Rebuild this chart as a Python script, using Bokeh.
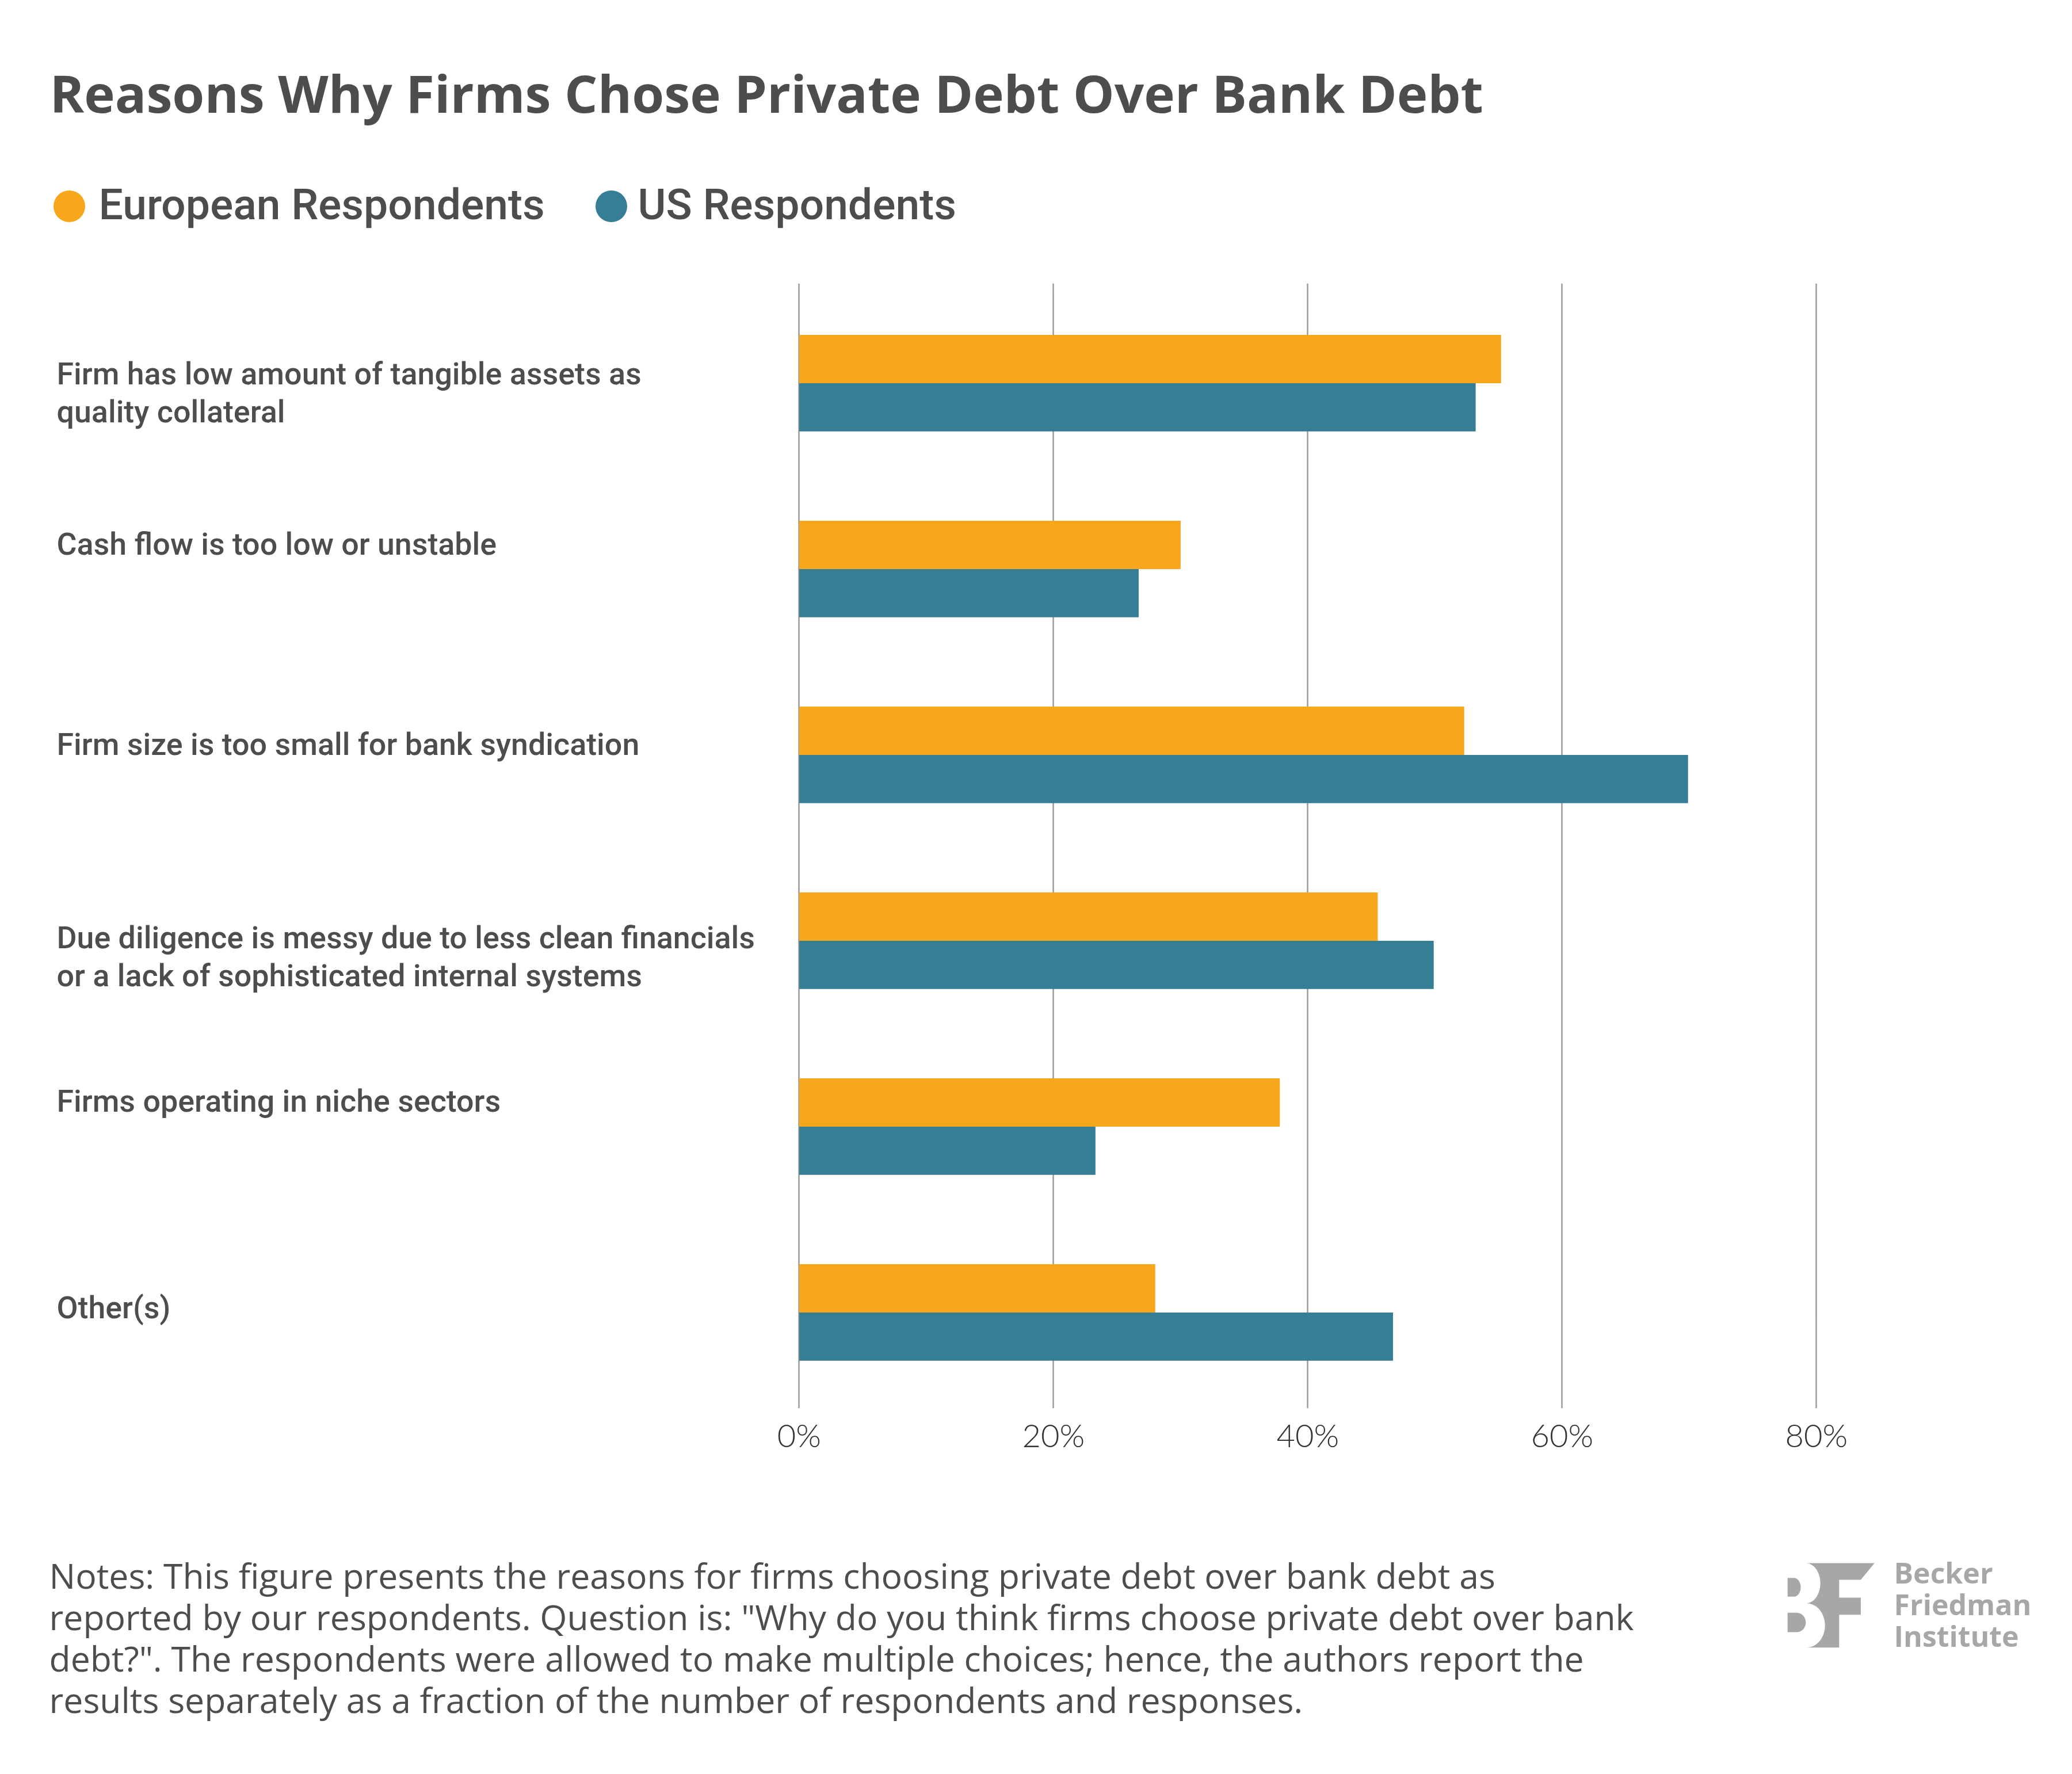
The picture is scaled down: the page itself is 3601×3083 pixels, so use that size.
import numpy as np
from bokeh.plotting import figure
from bokeh.layouts import column
from bokeh.models import (Range1d, FixedTicker, PrintfTickFormatter, Label,
                          PolyAnnotation, ColumnDataSource)
from bokeh.embed import file_html
from bokeh.resources import INLINE

# ---------------- data ----------------
categories = [
    "Firm has low amount of tangible assets as\nquality collateral",
    "Cash flow is too low or unstable",
    "Firm size is too small for bank syndication",
    "Due diligence is messy due to less clean financials\nor a lack of sophisticated internal systems",
    "Firms operating in niche sectors",
    "Other(s)",
]
european = [55.2, 30.0, 52.3, 45.5, 37.8, 28.0]
us = [53.2, 26.7, 69.9, 49.9, 23.3, 46.7]
x_ticks = [0, 20, 40, 60, 80]
series_names = ["European Respondents", "US Respondents"]
title_text = "Reasons Why Firms Chose Private Debt Over Bank Debt"
notes_lines = [
    "Notes: This figure presents the reasons for firms choosing private debt over bank debt as",
    "reported by our respondents. Question is: \"Why do you think firms choose private debt over bank",
    "debt?\". The respondents were allowed to make multiple choices; hence, the authors report the",
    "results separately as a fraction of the number of respondents and responses.",
]
logo_lines = ["Becker", "Friedman", "Institute"]

# ---------------- style / layout ----------------
ORANGE = "#F8A61C"
TEAL = "#367D96"
DARK = "#4d4d4f"
LOGO_GRAY = "#a7a7a7"
GRID = "#9b9b9b"

W, H = 3585, 3067
HEAD_H = 492                    # header (title + legend) height
FRAME_H = 1955                  # plot frame height (grid area)
AXIS_H = 200                    # space below frame for tick labels
FOOT_TOP = HEAD_H + FRAME_H + AXIS_H
FOOT_H = H - FOOT_TOP
FL = 1388.4                     # px of 0 %
PX = 22.10                      # px per percent
PITCH = 323.0                   # px per category
Y_TOP = -0.5368
Y_BOTTOM = Y_TOP + FRAME_H / PITCH
BAR_H = 0.26
CORR = 0.38                     # baseline correction (fraction of font size)

common = dict(output_backend="svg", toolbar_location=None, x_axis_location=None,
              y_axis_location=None, min_border=0, outline_line_color=None,
              background_fill_color="white", border_fill_color="white")


def text_label(fig, x, y, text, font, size, color, bold=False):
    fig.add_layout(Label(x=x, y=y, text=text, text_font=font,
                         text_font_style="bold" if bold else "normal",
                         text_font_size=f"{size}px", text_color=color,
                         text_align="left", text_baseline="alphabetic"))


# ---------- header (title + legend) ----------
head = figure(width=W, height=HEAD_H, x_range=Range1d(0, W), y_range=Range1d(HEAD_H, 0), **common)
head.grid.visible = False
TITLE_SIZE = 90.5
text_label(head, 86, 195 - CORR * TITLE_SIZE, title_text, "Open Sans", TITLE_SIZE, DARK, bold=True)

LEG_CY = 358
LEG_SIZE = 75
legend_marker_x = [120, 1062]
legend_text_x = [171, 1108]
legend_colors = [ORANGE, TEAL]
head.scatter(x=legend_marker_x, y=[LEG_CY] * 2, marker="circle", size=55,
             fill_color=legend_colors, line_color=None)
for name, tx in zip(series_names, legend_text_x):
    text_label(head, tx, 383 - CORR * LEG_SIZE, name, "Roboto Medium", LEG_SIZE, DARK)

# ---------- main plot ----------
main_kw = dict(common)
main_kw.pop("x_axis_location")
main_kw["min_border_bottom"] = AXIS_H
p = figure(width=W, height=FRAME_H + AXIS_H,
           x_range=Range1d(-FL / PX, (W - FL) / PX), y_range=Range1d(Y_BOTTOM, Y_TOP),
           **main_kw)

idx = np.arange(len(categories))
src = ColumnDataSource(dict(y_eu=idx - BAR_H / 2, y_us=idx + BAR_H / 2,
                            eu=european, us=us))
p.hbar(y="y_eu", left=0, right="eu", height=BAR_H, source=src,
       fill_color=ORANGE, line_color=None)
p.hbar(y="y_us", left=0, right="us", height=BAR_H, source=src,
       fill_color=TEAL, line_color=None)

p.ygrid.visible = False
p.xgrid.ticker = FixedTicker(ticks=x_ticks)
p.xgrid.grid_line_color = GRID
p.xgrid.grid_line_width = 2.5
ax = p.xaxis[0]
ax.ticker = FixedTicker(ticks=x_ticks)
ax.formatter = PrintfTickFormatter(format="%d%%")
ax.axis_line_color = None
ax.major_tick_line_color = None
ax.minor_tick_line_color = None
ax.major_label_text_font = "Lato Light"
ax.major_label_text_font_size = "56px"
ax.major_label_text_color = "#333333"
ax.major_label_standoff = 6

LABEL_SIZE = 53.7
label_baseline_dy = [4, -23, 2, 15, -24, 12]
LINE_GAP = 66
for i, cat in enumerate(categories):
    for j, line in enumerate(cat.split("\n")):
        yy = i + (label_baseline_dy[i] + j * LINE_GAP - CORR * LABEL_SIZE) / PITCH
        text_label(p, (98 - FL) / PX, yy, line, "Roboto Medium", LABEL_SIZE, DARK)

# ---------- footer ----------
foot = figure(width=W, height=FOOT_H, x_range=Range1d(0, W),
              y_range=Range1d(H, FOOT_TOP), **common)
foot.grid.visible = False
NOTE_SIZE = 60.7
for j, line in enumerate(notes_lines):
    text_label(foot, 85, 2760 + j * 72 - CORR * NOTE_SIZE, line, "Open Sans", NOTE_SIZE, DARK)
LOGO_SIZE = 50
for j, line in enumerate(logo_lines):
    text_label(foot, 3291, 2751.7 + j * 55 - CORR * LOGO_SIZE, line, "Open Sans", LOGO_SIZE,
               LOGO_GRAY, bold=True)


def lx(x):
    return 3050 + x * 0.3514


def ly(y):
    return 2650 + y / 3.0


def arc(cx, cy, rx, ry, t0, t1, n=24):
    t = np.radians(np.linspace(t0, t1, n))
    return list(cx + rx * np.cos(t)), list(cy + ry * np.sin(t))


shapes = []
bx = [245, 590, 522, 415, 415, 522, 522, 415, 415]
by = [198, 198, 285, 285, 378, 378, 467, 467, 638]
ax1, ay1 = arc(255, 523, 90, 115, 90, -90)
ax2, ay2 = arc(250, 303, 72, 105, 90, -90)
shapes.append((bx + ax1 + ax2, by + ay1 + ay2))
ux, uy = arc(190, 324, 35, 49, -90, 90)
shapes.append(([160] + ux + [160], [275] + uy + [373]))
lx2, ly2 = arc(205, 507.5, 45, 50.5, -90, 90)
shapes.append(([160] + lx2 + [160], [457] + ly2 + [558]))
for xs, ys in shapes:
    foot.add_layout(PolyAnnotation(xs=[lx(v) for v in xs], ys=[ly(v) for v in ys],
                                   fill_color=LOGO_GRAY, fill_alpha=1.0, line_color=None))

layout = column(head, p, foot, spacing=0)
open("out.html", "w").write(file_html(layout, INLINE))
